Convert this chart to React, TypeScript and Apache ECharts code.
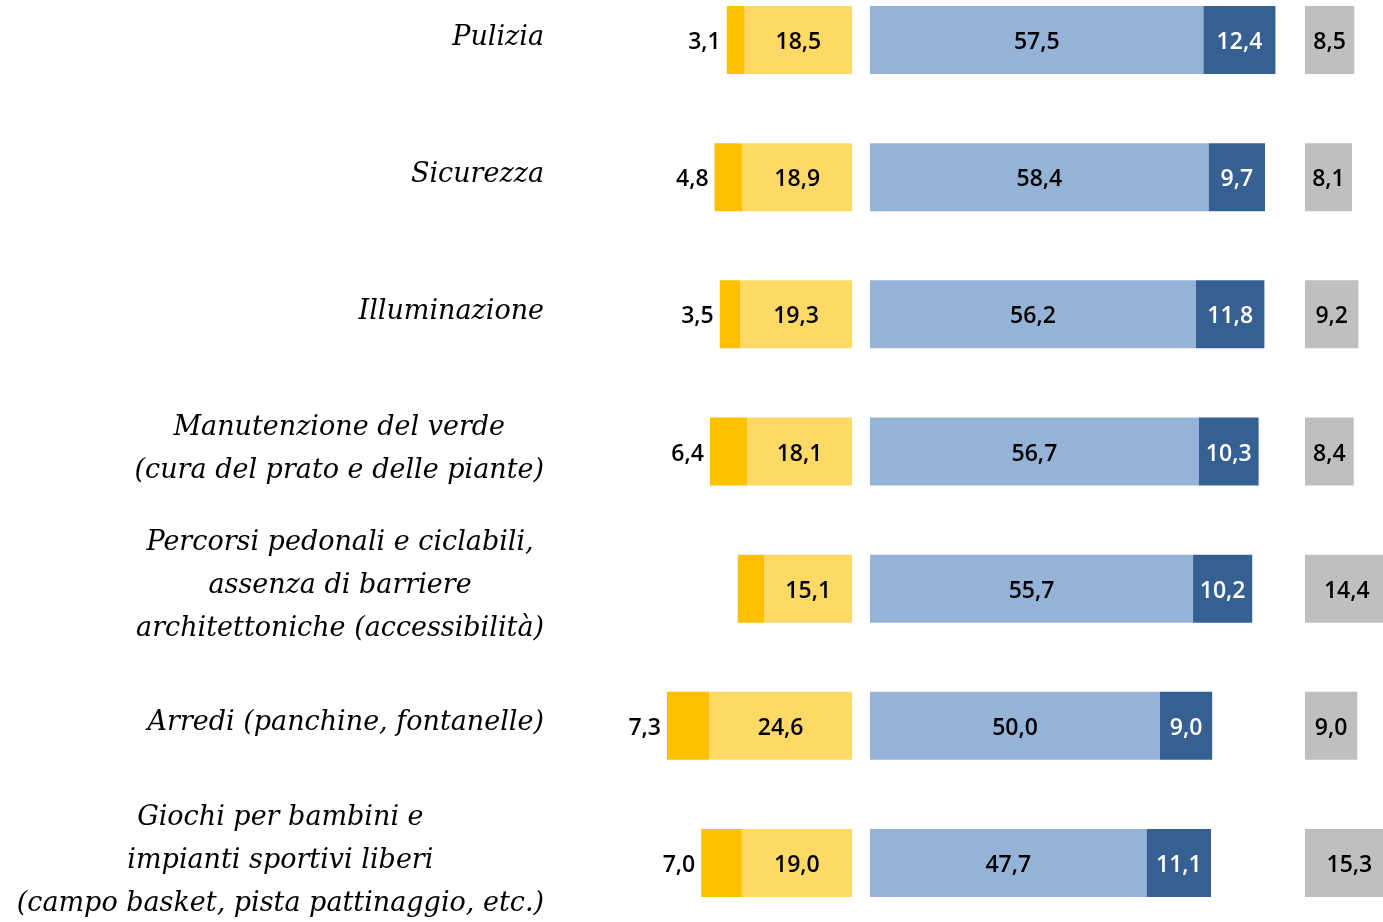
import React, { useEffect, useRef } from "react";
import * as echarts from "echarts";

const categories = [
  "Pulizia",
  "Sicurezza",
  "Illuminazione",
  "Manutenzione del verde\n(cura del prato e delle piante)",
  "Percorsi pedonali e ciclabili,\nassenza di barriere\narchitettoniche (accessibilità)",
  "Arredi (panchine, fontanelle)",
  "Giochi per bambini e\nimpianti sportivi liberi\n(campo basket, pista pattinaggio, etc.)",
];
const darkYellow = [3.1, 4.8, 3.5, 6.4, 4.6, 7.3, 7.0];
const darkYellowLabelShown = [true, true, true, true, false, true, true];
const lightYellow = [18.5, 18.9, 19.3, 18.1, 15.1, 24.6, 19.0];
const lightBlue = [57.5, 58.4, 56.2, 56.7, 55.7, 50.0, 47.7];
const darkBlue = [12.4, 9.7, 11.8, 10.3, 10.2, 9.0, 11.1];
const gray = [8.5, 8.1, 9.2, 8.4, 14.4, 9.0, 15.3];

const fmt = (v: number) => Math.abs(v).toFixed(1).replace(".", ",");
const valueFont = { fontFamily: "Open Sans", fontSize: 23, fontWeight: 600, color: "#000" };

export default function App() {
  const ref = useRef<HTMLDivElement>(null);
  useEffect(() => {
    if (!ref.current) return;
    const chart = echarts.init(ref.current, null, { renderer: "svg" });
    const top = -28.58;
    const height = 960.2;
    const gridBase = { top, height, outerBoundsMode: "none", containLabel: false } as any;
    const yBase = (idx: number, showLabels: boolean) => ({
      type: "category",
      gridIndex: idx,
      data: categories,
      inverse: true,
      axisLine: { show: false },
      axisTick: { show: false },
      splitLine: { show: false },
      axisLabel: showLabels
        ? {
            show: true,
            margin: 76,
            align: "right",
            padding: [0, 0, 10, 0],
            formatter: (v: string) =>
              v
                .split("\n")
                .map((l) => `{c|${l}}`)
                .join("\n"),
            rich: {
              c: {
                align: "center",
                fontFamily: "DejaVu Serif",
                fontStyle: "italic",
                fontSize: 27,
                lineHeight: 43,
                color: "#000",
              },
            },
          }
        : { show: false },
    });
    const xBase = (idx: number, min: number, max: number) => ({
      type: "value",
      gridIndex: idx,
      min,
      max,
      show: false,
      splitLine: { show: false },
    });
    chart.setOption({
      animation: false,
      grid: [
        { ...gridBase, left: 620, width: 232 },
        { ...gridBase, left: 870, width: 435 },
        { ...gridBase, left: 1305, width: 116 },
      ],
      xAxis: [xBase(0, -40, 0), xBase(1, 0, 75), xBase(2, 0, 20)],
      yAxis: [yBase(0, true), yBase(1, false), yBase(2, false)],
      series: [
        {
          type: "bar",
          name: "lightYellow",
          xAxisIndex: 0,
          yAxisIndex: 0,
          stack: "neg",
          barWidth: 68,
          data: lightYellow.map((v) => -v),
          itemStyle: { color: "#FFD966" },
          label: { show: true, position: "inside", ...valueFont, formatter: (p: any) => fmt(p.value) },
        },
        {
          type: "bar",
          name: "darkYellow",
          xAxisIndex: 0,
          yAxisIndex: 0,
          stack: "neg",
          barWidth: 68,
          data: darkYellow.map((v, i) => ({
            value: -v,
            label: { show: darkYellowLabelShown[i] },
          })),
          itemStyle: { color: "#FFC000" },
          label: { show: true, position: "left", distance: 6, ...valueFont, formatter: (p: any) => fmt(p.value) },
        },
        {
          type: "bar",
          name: "lightBlue",
          xAxisIndex: 1,
          yAxisIndex: 1,
          stack: "pos",
          barWidth: 68,
          data: lightBlue,
          itemStyle: { color: "#95B3D7" },
          label: { show: true, position: "inside", ...valueFont, formatter: (p: any) => fmt(p.value) },
        },
        {
          type: "bar",
          name: "darkBlue",
          xAxisIndex: 1,
          yAxisIndex: 1,
          stack: "pos",
          barWidth: 68,
          data: darkBlue,
          itemStyle: { color: "#366092" },
          label: {
            show: true,
            position: "inside",
            ...valueFont,
            color: "#fff",
            formatter: (p: any) => fmt(p.value),
          },
        },
        {
          type: "bar",
          name: "gray",
          xAxisIndex: 2,
          yAxisIndex: 2,
          barWidth: 68,
          data: gray,
          itemStyle: { color: "#BFBFBF" },
          label: { show: true, position: "inside", ...valueFont, formatter: (p: any) => fmt(p.value) },
        },
      ],
    });
    return () => chart.dispose();
  }, []);
  return (
    <div
      ref={ref}
      style={{ position: "fixed", left: 0, top: 0, width: 1383, height: 922 }}
    />
  );
}
